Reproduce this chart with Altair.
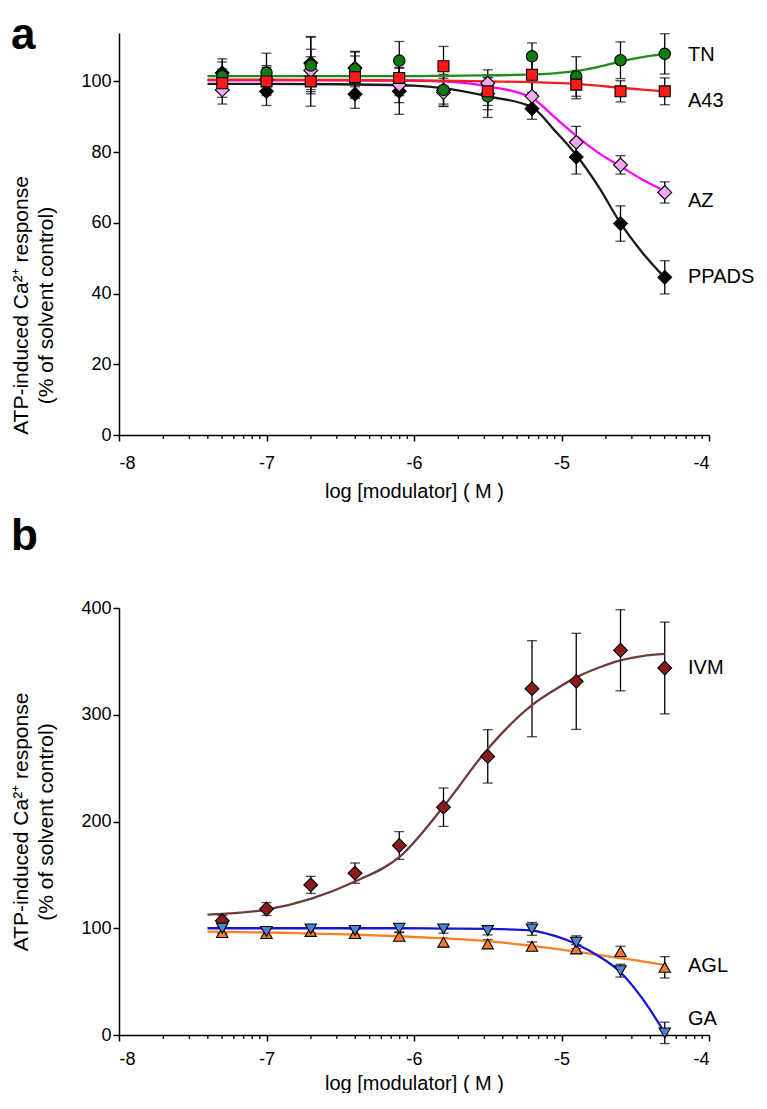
import altair as alt
import pandas as pd
import numpy as np

FONT = "Liberation Sans"

# ---------------- data ----------------
log_conc = [-7.3, -7.0, -6.7, -6.4, -6.1, -5.8, -5.5, -5.2, -4.9, -4.6, -4.3]

# panel a: means and SEM
tn_mean = [101.5, 102.5, 104.5, 103.5, 105.9, 97.6, 95.8, 107.1, 101.4, 106.0, 107.8]
tn_sem = [4.0, 5.5, 8.0, 5.0, 5.4, 4.0, 6.0, 3.8, 5.6, 5.2, 5.7]
a43_mean = [99.5, 100.0, 100.0, 101.2, 101.0, 104.3, 97.2, 101.9, 99.1, 97.2, 97.2]
a43_sem = [4.0, 4.0, 7.0, 6.0, 5.0, 5.6, 4.0, 5.0, 4.0, 3.0, 3.8]
az_mean = [97.6, 100.5, 103.1, 103.8, 99.0, 96.9, 99.5, 95.8, 82.8, 76.4, 68.6]
az_sem = [4.0, 4.0, 6.0, 4.5, 5.0, 4.0, 3.8, 4.0, 4.5, 2.6, 3.0]
ppads_mean = [102.4, 97.2, 105.2, 96.4, 97.2, 97.5, 96.5, 92.3, 78.6, 59.8, 44.6]
ppads_sem = [4.0, 4.0, 7.5, 4.0, 6.5, 4.5, 4.5, 3.0, 4.8, 5.0, 4.7]

# panel a: fitted curves
curve_x_a = [-7.4, -7.0, -6.5, -6.0, -5.8, -5.5, -5.2, -5.05, -4.9, -4.75, -4.6, -4.45, -4.3]
tn_curve = [101.5, 101.5, 101.5, 101.5, 101.6, 101.7, 102.0, 102.3, 102.9, 104.1, 105.7, 106.9, 107.7]
a43_curve = [100.5, 100.5, 100.4, 100.3, 100.2, 100.0, 99.8, 99.6, 99.3, 98.8, 98.2, 97.7, 97.2]
az_curve = [100.3, 100.3, 100.3, 100.2, 100.0, 98.6, 95.3, 90.0, 84.6, 79.8, 76.0, 72.2, 69.0]
ppads_curve = [99.3, 99.3, 99.2, 98.8, 98.1, 95.8, 92.7, 86.3, 79.2, 70.3, 59.9, 51.5, 44.5]

# panel b: means and SEM
ivm_mean = [107.0, 118.0, 140.6, 151.6, 177.5, 213.4, 261.0, 324.4, 331.3, 360.4, 343.8]
ivm_sem = [5.0, 6.0, 8.0, 9.5, 13.0, 18.0, 25.0, 45.0, 45.0, 38.0, 43.0]
agl_mean = [96.0, 95.0, 97.0, 95.0, 92.5, 86.9, 85.3, 83.1, 80.6, 78.1, 63.4]
agl_sem = [4.0, 4.0, 4.0, 4.0, 4.0, 4.0, 4.0, 4.0, 4.0, 5.0, 10.0]
ga_mean = [100.0, 97.0, 99.4, 98.0, 100.0, 99.4, 97.8, 99.4, 86.9, 60.3, 2.0]
ga_sem = [5.0, 4.0, 4.0, 4.0, 4.0, 4.0, 4.0, 6.0, 6.0, 6.0, 10.0]

curve_x_b = [-7.4, -7.0, -6.7, -6.4, -6.1, -5.8, -5.5, -5.2, -5.05, -4.9, -4.75, -4.6, -4.45, -4.3]
ivm_curve = [112.8, 117.5, 127.5, 143.8, 166.6, 214.0, 268.0, 309.0, 323.0, 335.0, 344.0, 351.0, 355.0, 357.0]
agl_curve = [96.8, 96.0, 95.0, 94.0, 92.5, 90.5, 88.0, 83.5, 81.0, 78.0, 75.0, 72.0, 69.0, 65.6]
ga_curve = [100.0, 100.0, 100.0, 100.0, 100.0, 99.7, 99.4, 97.8, 93.0, 85.3, 74.0, 58.8, 33.8, 2.0]

# series labels (name, value height of label)
labels_a = ["TN", "A43", "AZ", "PPADS"]
label_y_a = [107.6, 94.6, 66.2, 44.6]
labels_b = ["IVM", "AGL", "GA"]
label_y_b = [343.8, 65.0, 15.0]

x_ticks = [-8, -7, -6, -5, -4]
y_ticks_a = [0, 20, 40, 60, 80, 100]
y_ticks_b = [0, 100, 200, 300, 400]

# minor log ticks (axis decoration)
minor_ticks = [d + np.log10(k) for d in [-8, -7, -6, -5] for k in range(2, 10)]

W = 590
HA = 402
HB = 427
LABEL_X = 569  # px from left of plot
Y_TITLE = ["ATP-induced Ca²⁺ response", "(% of solvent control)"]


def series_layers(name, mean, sem, cx, cy, fill, line, shape, size):
    pts = pd.DataFrame({"x": log_conc, "y": mean,
                        "lo": [m - s for m, s in zip(mean, sem)],
                        "hi": [m + s for m, s in zip(mean, sem)]})
    crv = pd.DataFrame({"x": cx, "y": cy})
    base = alt.Chart(pts)
    err = base.mark_rule(color="black", strokeWidth=1.3).encode(
        x="x:Q", y="lo:Q", y2="hi:Q")
    cap_lo = base.mark_tick(orient="horizontal", size=10, thickness=1.3, color="black").encode(
        x="x:Q", y="lo:Q")
    cap_hi = base.mark_tick(orient="horizontal", size=10, thickness=1.3, color="black").encode(
        x="x:Q", y="hi:Q")
    ln = alt.Chart(crv).mark_line(color=line, strokeWidth=2.3, interpolate="monotone").encode(
        x="x:Q", y="y:Q")
    pt = base.mark_point(filled=True, fill=fill, stroke="black", strokeWidth=1.1,
                         shape=shape, size=size, opacity=1).encode(x="x:Q", y="y:Q")
    return [err, cap_lo, cap_hi], ln, pt


def panel(series, ymax, yticks, H, labels, label_y, letter, title_offset,
          x_label_pad, x_title_pad, y_title_y=None):
    xs = alt.X("x:Q", scale=alt.Scale(domain=[-8, -4], nice=False, zero=False),
               axis=alt.Axis(values=x_ticks, title="log [modulator]  ( M )",
                             labelExpr="'' + datum.value", labelPadding=x_label_pad,
                             titlePadding=x_title_pad, titleFontSize=20))
    yaxis_kw = dict(values=yticks, title=Y_TITLE, titleFontSize=21,
                    titlePadding=24, titleLineHeight=25)
    if y_title_y is not None:
        yaxis_kw["titleY"] = y_title_y
    ys = alt.Y("y:Q", scale=alt.Scale(domain=[0, ymax], nice=False),
               axis=alt.Axis(**yaxis_kw))
    errs, lines, pts = [], [], []
    for s in series:
        e, l, p = series_layers(*s)
        errs += e
        lines.append(l)
        pts.append(p)
    axis_holder = alt.Chart(pd.DataFrame({"x": [-8.0], "y": [0.0]})).mark_point(opacity=0).encode(x=xs, y=ys)
    minor = alt.Chart(pd.DataFrame({"m": minor_ticks})).mark_rule(
        color="black", strokeWidth=1.3).encode(
        x="m:Q", y=alt.value(H), y2=alt.value(H + 4))
    lab = alt.Chart(pd.DataFrame({"t": labels, "y": label_y})).mark_text(
        align="left", baseline="middle", font=FONT, fontSize=20, color="black").encode(
        x=alt.value(LABEL_X), y="y:Q", text="t:N")
    return alt.layer(axis_holder, minor, *errs, *lines, *pts, lab).properties(
        width=W, height=H,
        title=alt.Title(letter, anchor="start", frame="bounds", fontSize=44,
                        fontWeight="bold", font=FONT, color="black", offset=title_offset))


series_a = [
    ("PPADS", ppads_mean, ppads_sem, curve_x_a, ppads_curve, "#000000", "#1a1a1a", "diamond", 190),
    ("AZ", az_mean, az_sem, curve_x_a, az_curve, "#f2a8ee", "#ff00ff", "diamond", 190),
    ("TN", tn_mean, tn_sem, curve_x_a, tn_curve, "#127a12", "#1e8c1e", "circle", 130),
    ("A43", a43_mean, a43_sem, curve_x_a, a43_curve, "#ff1a1a", "#ee2020", "square", 120),
]
series_b = [
    ("IVM", ivm_mean, ivm_sem, curve_x_b, ivm_curve, "#8c1c1c", "#6e3b3b", "diamond", 190),
    ("AGL", agl_mean, agl_sem, curve_x_b, agl_curve, "#f47c32", "#ff7f24", "triangle-up", 130),
    ("GA", ga_mean, ga_sem, curve_x_b, ga_curve, "#4f83d6", "#1515d8", "triangle-down", 130),
]

pa = panel(series_a, 113.7, y_ticks_a, HA, labels_a, label_y_a, "a",
           title_offset=-25, x_label_pad=13, x_title_pad=9, y_title_y=272)
pb = panel(series_b, 400, y_ticks_b, HB, labels_b, label_y_b, "b",
           title_offset=40, x_label_pad=9, x_title_pad=5)

chart = alt.vconcat(pa, pb, spacing=14).properties(
    padding={"left": 2, "top": 6, "right": 0, "bottom": 0}
).configure_view(stroke=None).configure_axis(
    grid=False, domainColor="black", domainWidth=1.5, tickColor="black", tickWidth=1.5,
    tickSize=6, labelFont=FONT, labelFontSize=18, labelColor="black",
    titleFont=FONT, titleFontWeight="normal", titleColor="black"
)

chart.save("out.html", embed_options={"renderer": "svg", "actions": False})
